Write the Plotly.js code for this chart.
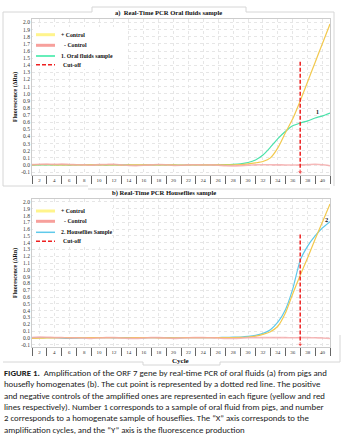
<!DOCTYPE html>
<html>
<head>
<meta charset="utf-8">
<script src="https://cdn.plot.ly/plotly-3.0.1.min.js"></script>
<style>html,body{margin:0;padding:0;background:#fff;}#chart{width:352px;height:444px;}</style>
</head>
<body>
<div id="chart"></div>
<script>
// ---- data ----
const cycles = [1,2,3,4,5,6,7,8,9,10,11,12,13,14,15,16,17,18,19,20,21,22,23,24,25,26,27,28,29,30,31,32,33,34,35,36,37,38,39,40,41];

// panel a) oral fluids
const posControlA = [0.002,0.004,0.004,0.003,0.002,0.001,0.002,0.003,0.002,0.003,0.002,0.001,0.000,0.001,0.002,0.001,0.002,0.003,0.002,0.001,0.000,0.001,0.002,0.002,0.001,0.002,0.003,0.004,0.006,0.015,0.03,0.05,0.10,0.24,0.45,0.65,0.90,1.17,1.44,1.71,1.98];
const negControlA = [0.005,0.010,0.012,0.010,0.012,0.008,0.004,0.002,-0.004,0.006,0.008,0.010,0.002,-0.006,-0.008,-0.004,0.002,0.008,0.004,-0.006,-0.004,0.002,0.003,0.000,0.002,-0.003,-0.010,-0.012,-0.008,-0.002,0.002,0.004,0.003,0.002,0.001,0.000,0.002,0.004,0.010,0.004,-0.010];
const oralFluidA = [0.000,0.001,0.002,0.002,0.001,0.000,0.001,0.004,0.003,0.001,0.000,0.001,0.002,0.001,0.000,0.001,0.002,0.003,0.002,0.001,0.000,0.001,0.002,0.002,0.003,0.004,0.006,0.010,0.018,0.035,0.07,0.14,0.25,0.37,0.47,0.55,0.59,0.62,0.66,0.69,0.73];
const cutoffX = [37,37];
const cutoffYA = [1.45,-0.1];

// panel b) houseflies
const posControlB = [-0.010,-0.006,-0.002,0.000,0.001,0.002,0.002,0.001,0.002,0.003,0.002,0.001,0.000,0.001,0.002,0.002,0.001,0.000,-0.002,0.000,0.001,0.002,0.002,0.001,0.002,0.002,0.003,0.004,0.006,0.012,0.025,0.05,0.09,0.17,0.36,0.65,0.92,1.18,1.45,1.71,1.97];
const negControlB = [0.004,0.010,0.008,0.004,0.002,-0.002,0.000,-0.004,-0.008,-0.002,0.002,0.002,-0.004,-0.008,-0.008,-0.002,0.002,0.002,-0.004,-0.008,-0.004,0.001,0.002,0.002,0.000,-0.004,-0.010,-0.010,-0.006,0.000,0.002,0.003,0.003,0.002,0.002,0.001,0.002,0.002,0.000,-0.004,-0.010];
const housefliesB = [0.000,0.001,0.002,0.001,-0.005,-0.008,-0.004,0.000,0.002,0.002,0.001,0.000,0.001,0.002,0.001,0.000,0.001,0.002,0.002,0.001,0.000,0.001,0.002,0.003,0.003,0.004,0.006,0.009,0.012,0.02,0.035,0.065,0.12,0.23,0.41,0.72,1.14,1.35,1.50,1.62,1.71];
const cutoffYB = [1.52,-0.1];

// ticks
const xTickVals = [2,4,6,8,10,12,14,16,18,20,22,24,26,28,30,32,34,36,38,40];
const xTickText = ["2","4","6","8","10","12","14","16","18","20","22","24","26","28","30","32","34","36","38","40"];
const yTickVals = [-0.1,0,0.1,0.2,0.3,0.4,0.5,0.6,0.7,0.8,0.9,1.0,1.1,1.2,1.3,1.4,1.5,1.6,1.7,1.8,1.9,2.0];
const yTickText = ["-0.1","0.0","0.1","0.2","0.3","0.4","0.5","0.6","0.7","0.8","0.9","1.0","1.1","1.2","1.3","1.4","1.5","1.6","1.7","1.8","1.9","2.0"];

const legendA = ["+ Control","- Control","1. Oral fluids sample","Cut-off"];
const legendB = ["+ Control","- Control","2. Houseflies Sample","Cut-off"];
const titleA = "a)  Real-Time PCR Oral fluids sample";
const titleB = "b) Real-Time PCR Houseflies sample";
const captionLines = [
 "<b>FIGURE 1.</b>  Amplification of the ORF 7 gene by real-time PCR of oral fluids (a) from pigs and",
 "housefly homogenates (b). The cut point is represented by a dotted red line. The positive",
 "and negative controls of the amplified ones are represented in each figure (yellow and red",
 "lines respectively). Number 1 corresponds to a sample of oral fluid from pigs, and number",
 "2 corresponds to a homogenate sample of houseflies. The \u201cX\u201d axis corresponds to the",
 "amplification cycles, and the \u201cY\u201d axis is the fluorescence production"
];

// ---- styling ----
const W = 352, H = 444;
const px = v => v / W;
const py = v => 1 - v / H;
const SERIF = "Liberation Serif, Times New Roman, serif";
const C_YEL = "#f2c94e", C_RED = "#f4a8a8", C_GRN = "#4be2aa", C_BLU = "#5fc9ea", C_CUT = "#ee2020";
const C_YEL_L = "#fff48c", C_RED_L = "#f7a09c";

function line(x, y, xa, ya, color, width, extra) {
  return Object.assign({x: x, y: y, xaxis: xa, yaxis: ya, type: "scatter", mode: "lines",
    line: {color: color, width: width, shape: "spline", smoothing: 0.6}, showlegend: false, hoverinfo: "skip"}, extra || {});
}
function cutoff(y, xa, ya) {
  return {x: cutoffX, y: y, xaxis: xa, yaxis: ya, type: "scatter", mode: "lines+markers",
    line: {color: C_CUT, width: 1.5, dash: "4px,2px"},
    marker: {symbol: "triangle-down", size: [0, 5], color: C_CUT}, showlegend: false, hoverinfo: "skip"};
}

const data = [
  line(cycles, oralFluidA, "x", "y", C_GRN, 1.2),
  line(cycles, posControlA, "x", "y", C_YEL, 1.2),
  line(cycles, negControlA, "x", "y", C_RED, 1.6, {opacity: 0.8}),
  cutoff(cutoffYA, "x", "y"),
  line(cycles, housefliesB, "x2", "y2", C_BLU, 1.2),
  line(cycles, posControlB, "x2", "y2", C_YEL, 1.2),
  line(cycles, negControlB, "x2", "y2", C_RED, 1.6, {opacity: 0.8}),
  cutoff(cutoffYB, "x2", "y2")
];

function xAxis(anchor) {
  return {domain: [px(32), px(330)], range: [1, 41], anchor: anchor,
    tickmode: "array", tickvals: xTickVals, ticktext: xTickText,
    ticks: "", showgrid: true, gridcolor: "#e6e6e6", griddash: "dot", gridwidth: 1,
    zeroline: false, showline: true, linecolor: "#cccccc", linewidth: 1, mirror: true,
    minor: {tick0: 1, dtick: 2, ticks: "outside", ticklen: 8, tickcolor: "#666", tickwidth: 1, showgrid: false},
    tickfont: {family: SERIF, size: 5, color: "#333"}, fixedrange: true};
}
function yAxis(anchor, dom) {
  return {domain: dom, range: [-0.14, 2.05], anchor: anchor,
    tickmode: "array", tickvals: yTickVals, ticktext: yTickText, ticks: "",
    showgrid: true, gridcolor: "#e6e6e6", griddash: "dot", gridwidth: 1,
    zeroline: false, showline: true, linecolor: "#cccccc", linewidth: 1, mirror: true,
    tickfont: {family: SERIF, size: 5.5, color: "#333"}, fixedrange: true};
}

const shapes = [];
const annotations = [];
const frameColor = "#d6d6d6";
// panel frames
shapes.push({type: "path", xref: "paper", yref: "paper", layer: "below",
  path: `M ${px(88)} ${py(186)} L ${px(3)} ${py(186)} L ${px(3)} ${py(12)} L ${px(92)} ${py(12)} L ${px(92)} ${py(7)} L ${px(246)} ${py(7)} L ${px(246)} ${py(12)} L ${px(334)} ${py(12)} L ${px(334)} ${py(186)}`,
  line: {color: frameColor, width: 1}});
shapes.push({type: "path", xref: "paper", yref: "paper", layer: "below",
  path: `M ${px(88)} ${py(189)} L ${px(330)} ${py(189)} M ${px(340)} ${py(335)} L ${px(340)} ${py(362)} L ${px(220)} ${py(362)} L ${px(220)} ${py(365)} L ${px(143)} ${py(365)} L ${px(143)} ${py(362)} L ${px(3)} ${py(362)}`,
  line: {color: frameColor, width: 1}});

// manual legends
function legend(x0, y0, x1, y1, rows, items) {
  shapes.push({type: "rect", xref: "paper", yref: "paper", x0: px(x0), x1: px(x1), y0: py(y0), y1: py(y1),
    fillcolor: "#ffffff", line: {width: 0}, layer: "above"});
  items.forEach((it, i) => {
    shapes.push({type: "line", xref: "paper", yref: "paper", x0: px(36), x1: px(55), y0: py(rows[i]), y1: py(rows[i]),
      line: it.style, layer: "above"});
    annotations.push({xref: "paper", yref: "paper", x: px(it.tx), y: py(rows[i]), xanchor: "left", yanchor: "middle",
      text: it.text, showarrow: false, font: {family: SERIF, size: 5.8, color: "#111", weight: "bold"}});
  });
}
legend(33, 27, 125, 69, [34.7, 45.3, 56, 64.7], [
  {text: legendA[0], tx: 59, style: {color: C_YEL_L, width: 3}},
  {text: legendA[1], tx: 62, style: {color: C_RED_L, width: 3}},
  {text: legendA[2], tx: 59, style: {color: "#33e8a2", width: 1.5}},
  {text: legendA[3], tx: 61, style: {color: C_CUT, width: 1.5, dash: "4px,2px"}}
]);
legend(33, 205, 112, 246, [211, 221.3, 232.3, 241.3], [
  {text: legendB[0], tx: 59, style: {color: C_YEL_L, width: 3}},
  {text: legendB[1], tx: 62, style: {color: C_RED_L, width: 3}},
  {text: legendB[2], tx: 59, style: {color: C_BLU, width: 1.5}},
  {text: legendB[3], tx: 61, style: {color: C_CUT, width: 1.5, dash: "4px,2px"}}
]);

// titles
annotations.push({xref: "paper", yref: "paper", x: px(168), y: py(13.5), text: titleA, showarrow: false,
  xanchor: "center", yanchor: "middle", font: {family: SERIF, size: 6.6, color: "#111", weight: "bold"}});
annotations.push({xref: "paper", yref: "paper", x: px(164), y: py(192.5), text: titleB, showarrow: false,
  xanchor: "center", yanchor: "middle", font: {family: SERIF, size: 6.6, color: "#111", weight: "bold"}});
// y titles
annotations.push({xref: "paper", yref: "paper", x: px(15), y: py(97), text: "Fluorescence (\u0394Rn)", textangle: -90,
  showarrow: false, xanchor: "center", yanchor: "middle", font: {family: SERIF, size: 6, color: "#111", weight: "bold"}});
annotations.push({xref: "paper", yref: "paper", x: px(15), y: py(273), text: "Fluorescence (\u0394Rn)", textangle: -90,
  showarrow: false, xanchor: "center", yanchor: "middle", font: {family: SERIF, size: 6, color: "#111", weight: "bold"}});
// x title (b)
annotations.push({xref: "paper", yref: "paper", x: px(180), y: py(360.5), text: "Cycle", showarrow: false,
  xanchor: "center", yanchor: "middle", font: {family: SERIF, size: 7, color: "#111", weight: "bold"}});
// sample number labels
annotations.push({xref: "x", yref: "y", x: 39.3, y: 0.74, text: "1", showarrow: false,
  font: {family: SERIF, size: 6, color: "#111", weight: "bold"}});
annotations.push({xref: "x2", yref: "y2", x: 40.5, y: 1.74, text: "2", showarrow: false,
  font: {family: SERIF, size: 6.5, color: "#111", weight: "bold"}});
// caption
const capY = [373, 384.4, 395.8, 407.1, 418.4, 429.7];
captionLines.forEach((t, i) => {
  annotations.push({xref: "paper", yref: "paper", x: px(2), y: py(capY[i]), text: t, showarrow: false,
    xanchor: "left", yanchor: "middle", font: {family: "Carlito, Liberation Sans, Arial, sans-serif", size: 8.8, color: "#1a1a1a"}});
});

const layout = {
  width: W, height: H, margin: {l: 0, r: 0, t: 0, b: 0},
  paper_bgcolor: "#ffffff", plot_bgcolor: "#ffffff",
  showlegend: false,
  xaxis: xAxis("y"),
  yaxis: yAxis("x", [py(175), py(19)]),
  xaxis2: xAxis("y2"),
  yaxis2: yAxis("x2", [py(347.3), py(198.6)]),
  shapes: shapes,
  annotations: annotations
};

Plotly.newPlot("chart", data, layout, {staticPlot: true, displayModeBar: false});
</script>
</body>
</html>
